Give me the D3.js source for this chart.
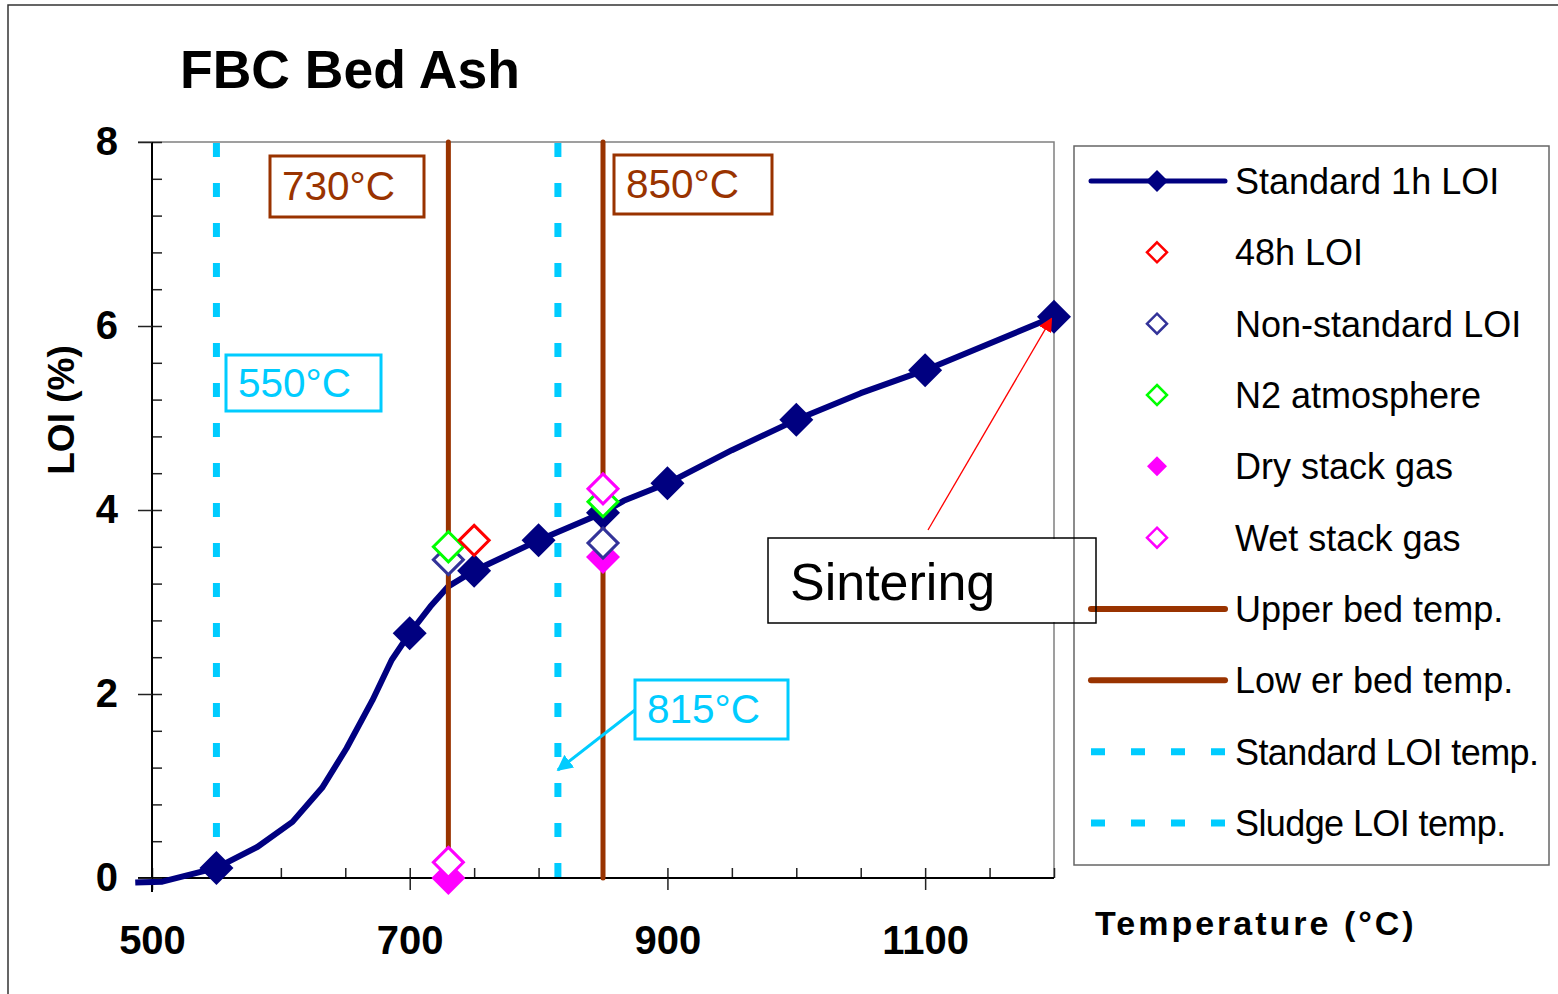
<!DOCTYPE html>
<html>
<head>
<meta charset="utf-8">
<script src="https://cdn.jsdelivr.net/npm/d3@7"></script>
<style>
  body { margin: 0; background: #fff; }
  text { font-family: Arial, "Liberation Sans", sans-serif; }
</style>
</head>
<body>
<svg id="chart" width="1558" height="994"></svg>
<script>
// smoothed standard 1h LOI curve (temperature °C, LOI %)
var curveTemps = [487, 508, 550, 582, 609, 632, 651, 671, 686, 700, 716, 730, 750, 800, 850, 866, 900, 950, 1000, 1050, 1100, 1200];
var curveLoi   = [-0.05, -0.04, 0.11, 0.34, 0.61, 0.98, 1.41, 1.93, 2.37, 2.66, 2.95, 3.17, 3.34, 3.67, 3.97, 4.10, 4.29, 4.65, 4.98, 5.27, 5.52, 6.10];

var stdTemps = [550, 700, 750, 800, 850, 900, 1000, 1100, 1200];
var stdLoi   = [0.11, 2.66, 3.34, 3.67, 3.97, 4.29, 4.98, 5.52, 6.10];

var loi48Temps = [750];
var loi48      = [3.67];
var nonStdTemps = [730, 850];
var nonStdLoi   = [3.46, 3.64];
var n2Temps = [730, 850];
var n2Loi   = [3.60, 4.09];
var dryTemps = [730, 850];
var dryLoi   = [0.00, 3.49];
var wetTemps = [730, 850];
var wetLoi   = [0.17, 4.23];

var bedTemps = [730, 850];      // upper / lower bed temp.
var loiTemps = [550, 815];      // standard / sludge LOI temp.

var xTicks = [500, 700, 900, 1100];
var yTicks = [0, 2, 4, 6, 8];

var legendNames = ["Standard 1h LOI", "48h LOI", "Non-standard LOI", "N2 atmosphere", "Dry stack gas",
                   "Wet stack gas", "Upper bed temp.", "Low er bed temp.", "Standard LOI temp.", "Sludge LOI temp."];

var navy = "#000080", brown = "#993300", cyan = "#00CCFF";

var svg = d3.select("#chart");

var x = d3.scaleLinear().domain([500, 1200]).range([152, 1054]);
var y = d3.scaleLinear().domain([0, 8]).range([878, 142]);

var diamond = function (r) {
    return "M0," + (-r) + "L" + r + ",0L0," + r + "L" + (-r) + ",0Z";
};

// outer frame
svg.append("path")
    .attr("d", "M8,994V5H1558")
    .attr("fill", "none").attr("stroke", "#333").attr("stroke-width", 1.5);

// plot area frame (top and right)
svg.append("path")
    .attr("d", "M138,142H1054V878")
    .attr("fill", "none").attr("stroke", "#808080").attr("stroke-width", 1.5);

// axes
var xMinor = d3.range(500, 1201, 50);
svg.append("g")
    .attr("transform", "translate(0,878)")
    .call(d3.axisTop(x).tickValues(xMinor).tickSizeInner(10).tickSizeOuter(0).tickFormat(""))
    .call(function (g) { g.select(".domain").remove(); });

svg.append("g")
    .attr("class", "axis axis-x")
    .attr("transform", "translate(0,878)")
    .call(d3.axisBottom(x).tickValues(xTicks).tickFormat(d3.format("d"))
        .tickSizeInner(12).tickSizeOuter(0).tickPadding(36))
    .call(function (g) {
        g.select(".domain").attr("d", "M138,0H1054");
        g.selectAll("text").attr("font-size", 40).attr("font-weight", "bold").attr("fill", "#000")
            .attr("font-family", "Arial, 'Liberation Sans', sans-serif");
    });

var yMinor = d3.range(0, 8.01, 0.4);
svg.append("g")
    .attr("transform", "translate(152,0)")
    .call(d3.axisRight(y).tickValues(yMinor).tickSizeInner(10).tickSizeOuter(0).tickFormat(""))
    .call(function (g) { g.select(".domain").remove(); });

svg.append("g")
    .attr("class", "axis axis-y")
    .attr("transform", "translate(152,0)")
    .call(d3.axisLeft(y).tickValues(yTicks).tickSizeInner(14).tickSizeOuter(0).tickPadding(20))
    .call(function (g) {
        g.select(".domain").attr("d", "M0,142V892");
        g.selectAll("text").attr("font-size", 40).attr("font-weight", "bold").attr("fill", "#000")
            .attr("font-family", "Arial, 'Liberation Sans', sans-serif");
    });

svg.selectAll(".tick line").attr("stroke", "#222").attr("stroke-width", 1.5);
svg.selectAll(".domain").attr("stroke", "#000").attr("stroke-width", 2);

// axis titles and chart title
svg.append("text")
    .attr("x", 180).attr("y", 88)
    .attr("font-size", 53.5).attr("font-weight", "bold")
    .text("FBC Bed Ash");

svg.append("text")
    .attr("transform", "translate(74,410) rotate(-90)")
    .attr("text-anchor", "middle")
    .attr("font-size", 37).attr("font-weight", "bold")
    .text("LOI (%)");

svg.append("text")
    .attr("x", 1095).attr("y", 935)
    .attr("font-size", 34).attr("font-weight", "bold")
    .attr("letter-spacing", 3)
    .text("Temperature (°C)");

// LOI temperature lines (dashed cyan)
svg.selectAll(".loi-temp")
    .data(loiTemps)
    .enter().append("line")
    .attr("class", "loi-temp")
    .attr("x1", function (d) { return x(d); }).attr("x2", function (d) { return x(d); })
    .attr("y1", y(8) + 1).attr("y2", y(0))
    .attr("stroke", cyan).attr("stroke-width", 7)
    .attr("stroke-dasharray", "14,26");

// standard curve
var line = d3.line()
    .x(function (d) { return x(d[0]); })
    .y(function (d) { return y(d[1]); });

svg.append("path")
    .datum(d3.zip(curveTemps, curveLoi))
    .attr("d", line)
    .attr("fill", "none").attr("stroke", navy).attr("stroke-width", 6)
    .attr("stroke-linejoin", "round");

// bed temperature lines
svg.selectAll(".bed-temp")
    .data(bedTemps)
    .enter().append("line")
    .attr("class", "bed-temp")
    .attr("x1", function (d) { return x(d); }).attr("x2", function (d) { return x(d); })
    .attr("y1", y(8)).attr("y2", y(0))
    .attr("stroke", brown).attr("stroke-width", 5)
    .attr("stroke-linecap", "round");

// markers
function drawMarkers(temps, vals, r, fill, stroke, sw) {
    svg.append("g").selectAll("path")
        .data(d3.zip(temps, vals))
        .enter().append("path")
        .attr("transform", function (d) { return "translate(" + x(d[0]) + "," + y(d[1]) + ")"; })
        .attr("d", diamond(r))
        .attr("fill", fill).attr("stroke", stroke).attr("stroke-width", sw);
}

drawMarkers(stdTemps, stdLoi, 17, navy, "none", 0);
drawMarkers(dryTemps, dryLoi, 17, "#FF00FF", "none", 0);
drawMarkers(nonStdTemps, nonStdLoi, 15, "#fff", "#333399", 3);
drawMarkers(n2Temps, n2Loi, 15, "#fff", "#00FF00", 3);
drawMarkers(loi48Temps, loi48, 15, "#fff", "#FF0000", 3);
drawMarkers(wetTemps, wetLoi, 15, "#fff", "#FF00FF", 3);

// annotation boxes
function labelBox(x0, y0, w, h, txt, color, size, sw) {
    svg.append("rect")
        .attr("x", x0).attr("y", y0).attr("width", w).attr("height", h)
        .attr("fill", "#fff").attr("stroke", color).attr("stroke-width", sw);
    svg.append("text")
        .attr("x", x0 + 12).attr("y", y0 + h / 2 - 1)
        .attr("dy", "0.36em")
        .attr("font-size", size).attr("fill", color)
        .text(txt);
}

labelBox(270, 156, 154, 61, "730°C", brown, 40.5, 3);
labelBox(614, 155, 158, 59, "850°C", brown, 40.5, 3);
labelBox(226, 355, 155, 56, "550°C", cyan, 40.5, 3);
labelBox(635, 680, 153, 59, "815°C", cyan, 40.5, 3);

// arrows
var defs = svg.append("defs");
function arrowHead(id, color, size) {
    defs.append("marker")
        .attr("id", id).attr("viewBox", "0 0 10 10")
        .attr("refX", 9).attr("refY", 5)
        .attr("markerWidth", size).attr("markerHeight", size)
        .attr("markerUnits", "userSpaceOnUse")
        .attr("orient", "auto")
        .append("path").attr("d", "M0,0L10,5L0,10Z").attr("fill", color);
}
arrowHead("arrow-cyan", cyan, 16);
arrowHead("arrow-red", "#FF0000", 14);

svg.append("line")
    .attr("x1", 635).attr("y1", 710).attr("x2", x(815)).attr("y2", 770)
    .attr("stroke", cyan).attr("stroke-width", 3)
    .attr("marker-end", "url(#arrow-cyan)");

svg.append("line")
    .attr("x1", 928).attr("y1", 530).attr("x2", x(1198)).attr("y2", y(6.08))
    .attr("stroke", "#FF0000").attr("stroke-width", 1.3)
    .attr("marker-end", "url(#arrow-red)");

// legend
var lg = svg.append("g");
lg.append("rect")
    .attr("x", 1074).attr("y", 146).attr("width", 475).attr("height", 719)
    .attr("fill", "#fff").attr("stroke", "#666").attr("stroke-width", 1.5);

var rowY = d3.scalePoint().domain(legendNames).range([181, 823]);

legendNames.forEach(function (name, i) {
    var cy = rowY(name);
    if (i === 0) {
        lg.append("line").attr("x1", 1091).attr("x2", 1225).attr("y1", cy).attr("y2", cy)
            .attr("stroke", navy).attr("stroke-width", 5).attr("stroke-linecap", "round");
        lg.append("path").attr("transform", "translate(1157," + cy + ")").attr("d", diamond(11)).attr("fill", navy);
    } else if (i <= 5) {
        var cols = [null, "#FF0000", "#333399", "#00FF00", "#FF00FF", "#FF00FF"];
        lg.append("path").attr("transform", "translate(1157," + cy + ")").attr("d", diamond(10))
            .attr("fill", i === 4 ? cols[i] : "#fff")
            .attr("stroke", i === 4 ? "none" : cols[i]).attr("stroke-width", 2.5);
    } else if (i <= 7) {
        lg.append("line").attr("x1", 1091).attr("x2", 1225).attr("y1", cy).attr("y2", cy)
            .attr("stroke", brown).attr("stroke-width", 6).attr("stroke-linecap", "round");
    } else {
        lg.append("line").attr("x1", 1091).attr("x2", 1225).attr("y1", cy).attr("y2", cy)
            .attr("stroke", cyan).attr("stroke-width", 7).attr("stroke-dasharray", "14,26");
    }
    var t = lg.append("text")
        .attr("x", 1235).attr("y", cy).attr("dy", "0.36em")
        .attr("font-size", 36).attr("fill", "#000")
        .text(name);
    // the "LOI temp." labels are set tighter in the original
    if (i >= 8) t.attr("letter-spacing", -0.6);
});

// sintering label (drawn over legend edge)
svg.append("rect")
    .attr("x", 768).attr("y", 538).attr("width", 328).attr("height", 85)
    .attr("fill", "none").attr("stroke", "#000").attr("stroke-width", 1.5);
svg.append("rect")
    .attr("x", 769).attr("y", 539).attr("width", 304).attr("height", 83)
    .attr("fill", "#fff");
svg.append("text")
    .attr("x", 790).attr("y", 600)
    .attr("font-size", 52).attr("fill", "#000")
    .text("Sintering");
</script>
</body>
</html>
